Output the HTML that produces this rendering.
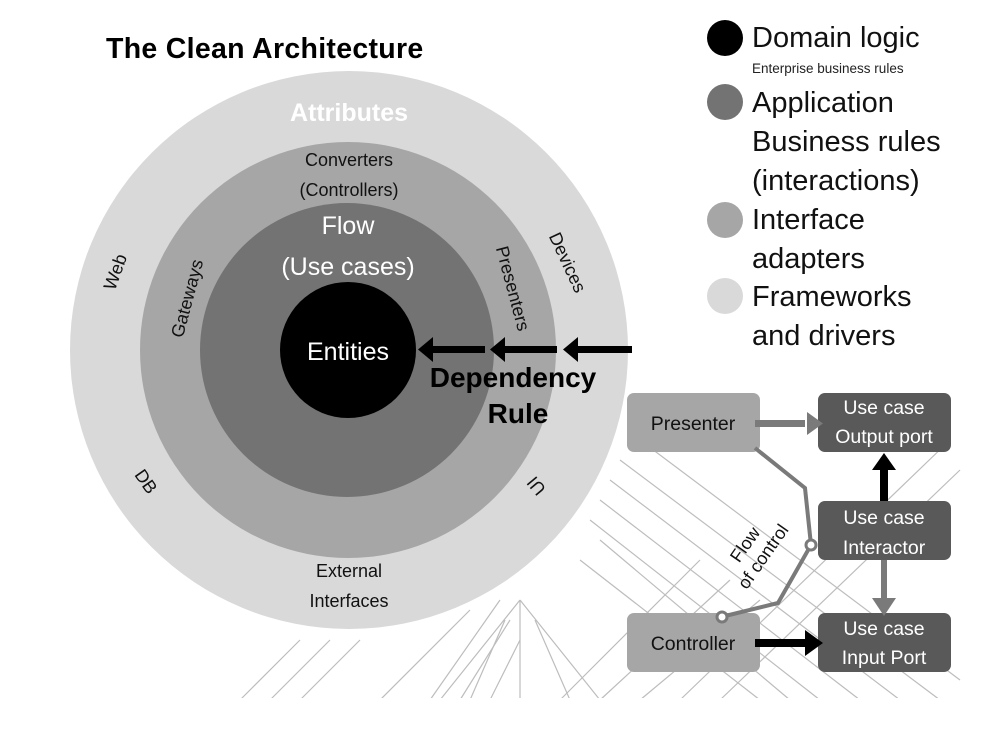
<!DOCTYPE html>
<html><head><meta charset="utf-8"><style>
html,body{margin:0;padding:0;background:#fff;}
svg{display:block;font-family:"Liberation Sans",sans-serif;}
</style></head><body>
<svg width="1007" height="737" viewBox="0 0 1007 737" xmlns="http://www.w3.org/2000/svg">
<rect width="1007" height="737" fill="#fff"/>
<g stroke="#888" stroke-width="1.2" opacity="0.55" fill="none">
<path d="M560 700 L700 560 M600 700 L730 580 M640 700 L760 600 M680 700 L950 440 M720 700 L960 470"/>
<path d="M430 700 L500 600 M460 700 L510 620 M490 700 L520 640 M380 700 L470 610"/>
<path d="M520 600 L440 700 M520 600 L600 700 M520 600 L520 700 M505 620 L470 700 M535 620 L570 700"/>
<path d="M620 460 L940 700 M610 480 L900 700 M600 500 L860 700 M590 520 L820 700 M640 440 L960 680 M600 540 L790 700 M580 560 L760 700"/>
<path d="M270 700 L330 640 M300 700 L360 640 M240 700 L300 640"/>
</g>
<rect x="0" y="698" width="1007" height="39" fill="#fff"/>
<text x="106" y="58" font-size="28.5" font-weight="bold" fill="#000" letter-spacing="0.3">The Clean Architecture</text>
<circle cx="349" cy="350" r="279" fill="#d9d9d9"/>
<circle cx="348" cy="350" r="208" fill="#a6a6a6"/>
<circle cx="347" cy="350" r="147" fill="#737373"/>
<circle cx="348" cy="350" r="68" fill="#000"/>
<text x="349" y="121" font-size="25" font-weight="bold" fill="#fff" text-anchor="middle">Attributes</text>
<text x="349" y="166" font-size="18" fill="#111" text-anchor="middle">Converters</text>
<text x="349" y="196" font-size="18" fill="#111" text-anchor="middle">(Controllers)</text>
<text x="348" y="234" font-size="25" fill="#fff" text-anchor="middle">Flow</text>
<text x="348" y="275" font-size="25" fill="#fff" text-anchor="middle">(Use cases)</text>
<text x="348" y="360" font-size="25" fill="#fff" text-anchor="middle">Entities</text>
<text x="349" y="577" font-size="18" fill="#111" text-anchor="middle">External</text>
<text x="349" y="607" font-size="18" fill="#111" text-anchor="middle">Interfaces</text>
<text transform="translate(121,274) rotate(-70)" font-size="18" fill="#111" text-anchor="middle">Web</text>
<text transform="translate(193,300) rotate(-75)" font-size="18" fill="#111" text-anchor="middle">Gateways</text>
<text transform="translate(507,290) rotate(75)" font-size="18" fill="#111" text-anchor="middle">Presenters</text>
<text transform="translate(562,265) rotate(65)" font-size="18" fill="#111" text-anchor="middle">Devices</text>
<text transform="translate(141,485) rotate(55)" font-size="18" fill="#111" text-anchor="middle">DB</text>
<text transform="translate(541,482) rotate(-130)" font-size="18" fill="#111" text-anchor="middle">UI</text>
<g fill="#000">
<rect x="570" y="346" width="62" height="7"/><polygon points="563,349.5 578,337 578,362"/>
<rect x="497" y="346" width="60" height="7"/><polygon points="490,349.5 505,337 505,362"/>
<rect x="425" y="346" width="60" height="7"/><polygon points="418,349.5 433,337 433,362"/>
</g>
<text x="513" y="387" font-size="28" font-weight="bold" fill="#000" text-anchor="middle">Dependency</text>
<text x="518" y="423" font-size="28" font-weight="bold" fill="#000" text-anchor="middle">Rule</text>
<circle cx="725" cy="38" r="18" fill="#000"/>
<circle cx="725" cy="102" r="18" fill="#737373"/>
<circle cx="725" cy="220" r="18" fill="#a6a6a6"/>
<circle cx="725" cy="296" r="18" fill="#d9d9d9"/>
<g font-size="29" fill="#111">
<text x="752" y="47">Domain logic</text>
<text x="752" y="112">Application</text>
<text x="752" y="151">Business rules</text>
<text x="752" y="190">(interactions)</text>
<text x="752" y="229">Interface</text>
<text x="752" y="268">adapters</text>
<text x="752" y="306">Frameworks</text>
<text x="752" y="345">and drivers</text>
</g>
<text x="752" y="73" font-size="13.5" fill="#222">Enterprise business rules</text>
<rect x="627" y="393" width="133" height="59" rx="7" fill="#a6a6a6"/>
<rect x="627" y="613" width="133" height="59" rx="7" fill="#a6a6a6"/>
<rect x="818" y="393" width="133" height="59" rx="7" fill="#595959"/>
<rect x="818" y="501" width="133" height="59" rx="7" fill="#595959"/>
<rect x="818" y="613" width="133" height="59" rx="7" fill="#595959"/>
<g font-size="19.5" text-anchor="middle">
<text x="693" y="430" fill="#111">Presenter</text>
<text x="693" y="650" fill="#111">Controller</text>
<text x="884" y="414" fill="#fff">Use case</text>
<text x="884" y="443" fill="#fff">Output port</text>
<text x="884" y="524" fill="#fff">Use case</text>
<text x="884" y="554" fill="#fff">Interactor</text>
<text x="884" y="635" fill="#fff">Use case</text>
<text x="884" y="664" fill="#fff">Input Port</text>
</g>
<rect x="755" y="420" width="50" height="7" fill="#7a7a7a"/><polygon points="823,423.5 807,412 807,435" fill="#7a7a7a"/>
<rect x="880" y="468" width="8" height="33" fill="#000"/><polygon points="884,453 872,470 896,470" fill="#000"/>
<rect x="881" y="560" width="6" height="38" fill="#7a7a7a"/><polygon points="884,616 872,598 896,598" fill="#7a7a7a"/>
<rect x="755" y="639" width="50" height="8" fill="#000"/><polygon points="823,643 805,630 805,656" fill="#000"/>
<polyline points="755,448 805,488 811,545 778,603 721,617" fill="none" stroke="#7a7a7a" stroke-width="4"/>
<circle cx="811" cy="545" r="5" fill="#fff" stroke="#7a7a7a" stroke-width="3"/>
<circle cx="722" cy="617" r="5" fill="#fff" stroke="#7a7a7a" stroke-width="3"/>
<text transform="translate(750,548) rotate(-55)" font-size="18" fill="#111" text-anchor="middle">Flow</text>
<text transform="translate(768,560) rotate(-55)" font-size="18" fill="#111" text-anchor="middle">of control</text>
</svg>
</body></html>
